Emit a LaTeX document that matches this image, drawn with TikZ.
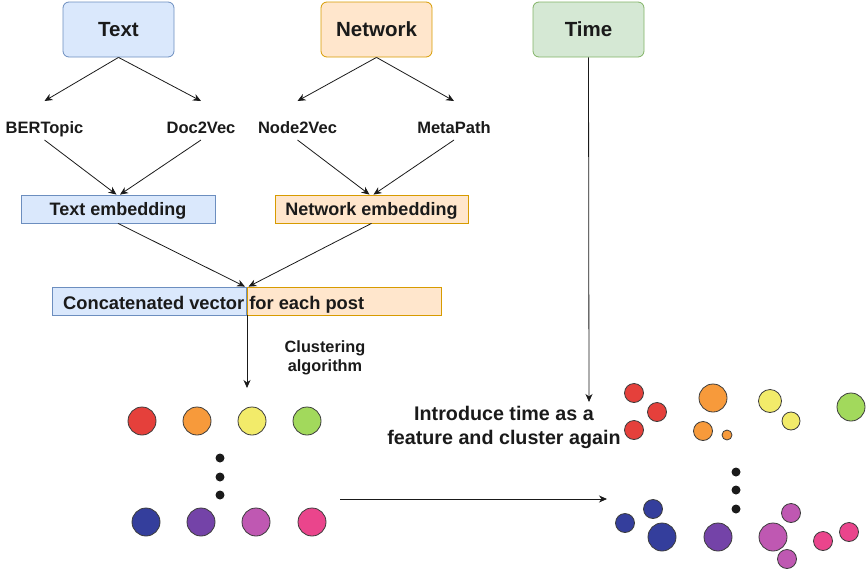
\documentclass[tikz,border=0pt]{standalone}
\usepackage{fontspec}
\setmainfont{Liberation Sans}
\usetikzlibrary{arrows.meta}

\definecolor{ink}{HTML}{1A1A1A}
\definecolor{txtfill}{HTML}{DAE8FC}
\definecolor{txtline}{HTML}{6C8EBF}
\definecolor{netfill}{HTML}{FFE6CC}
\definecolor{netline}{HTML}{D79B00}
\definecolor{timfill}{HTML}{D5E8D4}
\definecolor{timline}{HTML}{82B366}
\definecolor{cred}{HTML}{E5403B}
\definecolor{corange}{HTML}{F79A3B}
\definecolor{cyellow}{HTML}{F2EB6A}
\definecolor{cgreen}{HTML}{A2D95C}
\definecolor{cblue}{HTML}{343E9C}
\definecolor{cpurple}{HTML}{7443A8}
\definecolor{cmagenta}{HTML}{BF58B2}
\definecolor{cpink}{HTML}{EA458C}

\tikzset{
  srcbox/.style={rounded corners=6pt, minimum width=111pt, minimum height=55pt,
    line width=0.8pt, inner sep=0pt, text depth=0pt,
    font=\fontsize{20.5}{24}\selectfont\bfseries},
  method/.style={anchor=base, inner sep=0pt, font=\fontsize{16.5}{19}\selectfont\bfseries},
  embbox/.style={minimum width=194pt, minimum height=28pt, line width=0.8pt,
    inner sep=0pt, text depth=0pt, font=\fontsize{18}{22}\selectfont\bfseries},
  link/.style={-{Stealth[length=8pt,width=7pt,inset=2.5pt]}, line width=0.8pt, draw=ink},
  clus/.style={circle, draw=ink!85, line width=0.8pt, inner sep=0pt, minimum size=#1},
  dot/.style={circle, fill=ink, inner sep=0pt, minimum size=9pt}
}

\begin{document}
\begin{tikzpicture}[x=1pt,y=-1pt, text=ink]
\useasboundingbox (0,0) rectangle (868,571);

% sources
\node[srcbox, fill=txtfill, draw=txtline] (text) at (118.5,29.5) {Text};
\node[srcbox, fill=netfill, draw=netline] (net) at (376.5,29.5) {Network};
\node[srcbox, fill=timfill, draw=timline] (time) at (588.5,29.5) {Time};

% methods
\node[method] (bert) at (44.5,133) {BERTopic};
\node[method] (doc) at (201,133) {Doc2Vec};
\node[method] (n2v) at (297.5,133) {Node2Vec};
\node[method] (meta) at (454,133) {MetaPath};

\draw[link] (text.south) -- ([yshift=32pt]bert.base);
\draw[link] (text.south) -- ([yshift=32pt]doc.base);
\draw[link] (net.south) -- ([yshift=32pt]n2v.base);
\draw[link] (net.south) -- ([yshift=32pt]meta.base);

% embeddings
\node[embbox, fill=txtfill, draw=txtline] (temb) at (118,209) {Text embedding};
\node[embbox, fill=netfill, draw=netline, minimum width=193pt] (nemb) at (371.5,209) {Network embedding};

\draw[link] ([yshift=-7pt]bert.base) -- ([xshift=-1.5pt]temb.north);
\draw[link] ([yshift=-7pt]doc.base) -- ([xshift=2pt]temb.north);
\draw[link] ([yshift=-7pt]n2v.base) -- ([xshift=-2pt]nemb.north);
\draw[link] ([yshift=-7pt]meta.base) -- ([xshift=2pt]nemb.north);

% concatenated vector
\node[embbox, fill=txtfill, draw=txtline, anchor=east] (cleft) at (247,301) {};
\node[embbox, fill=netfill, draw=netline, anchor=west] (cright) at (247,301) {};
\node[method, anchor=base west] (concat) at (63,309) {\fontsize{18.3}{22}\selectfont Concatenated vector for each post};

\draw[link] (temb.south) -- ([xshift=-2pt]cleft.north east);
\draw[link] (nemb.south) -- ([xshift=1.5pt]cleft.north east);

% first clustering
\coordinate (cend) at (247,388);
\draw[link] (cleft.south east) -- (cend);
\node[align=center, inner sep=0pt, font=\fontsize{16.3}{19}\selectfont\bfseries] (algo) at (325,358) {Clustering\\algorithm};

\foreach \x/\c [count=\i] in {142/cred, 197/corange, 252/cyellow, 307/cgreen}
  \node[clus=28pt, fill=\c] (a\i) at (\x,421) {};
\foreach \x/\c [count=\i] in {146/cblue, 201/cpurple, 256/cmagenta, 312/cpink}
  \node[clus=28pt, fill=\c] (b\i) at (\x,522) {};
\foreach \y [count=\i] in {458,477,495}
  \node[dot] (ldot\i) at (220,\y) {};

% time
\coordinate (tend) at (589,402);
\draw[link] (time.south) -- (tend);
\node[align=center, inner sep=0pt, font=\fontsize{19.7}{24}\selectfont\bfseries] (intro) at (504,427.8) {Introduce time as a\\feature and cluster again};

\coordinate (hs) at (340,499);
\coordinate (he) at (607,499);
\draw[link] (hs) -- (he);

% second clustering
\foreach \x/\y/\d/\c [count=\i] in {
  634/393/19/cred, 657/412/19/cred, 634/430/19/cred,
  713/398/28/corange, 703/431/19/corange, 727/435/10/corange,
  770/401/23/cyellow, 791/421/18/cyellow,
  851/407/28/cgreen,
  625/523/19/cblue, 653/509/19/cblue, 662/537/28/cblue,
  718/537/28/cpurple,
  773/537/28/cmagenta, 791/513/19/cmagenta, 787/559/19/cmagenta,
  823/541/19/cpink, 849/532/19/cpink}
  \node[clus=\d pt, fill=\c] (r\i) at (\x,\y) {};
\foreach \y [count=\i] in {472,490,509}
  \node[dot] (rdot\i) at (736,\y) {};

\end{tikzpicture}
\end{document}
